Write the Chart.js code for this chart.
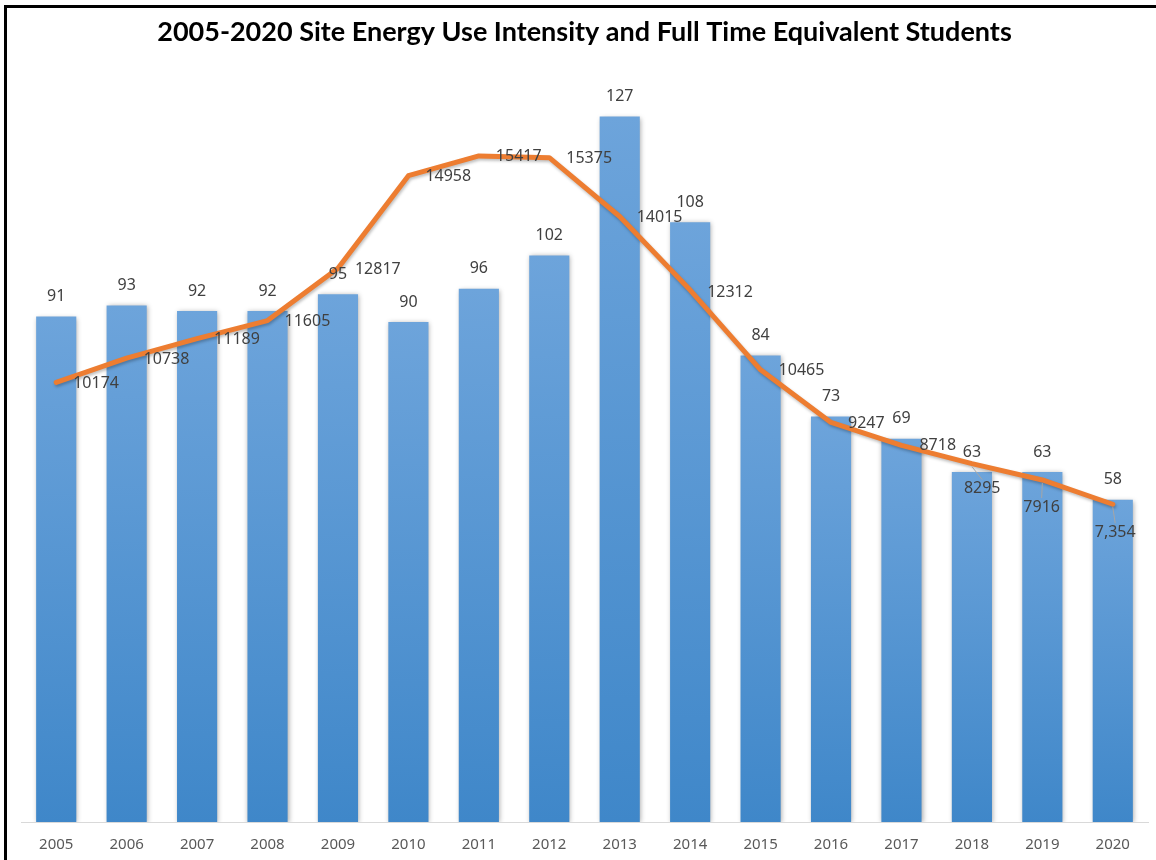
<!DOCTYPE html>
<html>
  <head>
    <title>Site Energy Use Intensity</title>
    <script src="https://cdn.jsdelivr.net/npm/chart.js"></script>
    <style>
      html,
      body {
        margin: 0;
        padding: 0;
        overflow: hidden;
        background: #fff;
      }
      #frame {
        position: absolute;
        left: 4px;
        top: 5px;
        width: 1170px;
        height: 880px;
        border: 3px solid #000;
        box-sizing: border-box;
        pointer-events: none;
      }
      #eui_chart {
        position: absolute;
        left: 0;
        top: 0;
      }
    </style>
  </head>
  <body>
    <canvas id="eui_chart" width="1156" height="860"></canvas>
    <div id="frame"></div>

    <script>
      // data
      var years = [
        "2005", "2006", "2007", "2008", "2009", "2010", "2011", "2012",
        "2013", "2014", "2015", "2016", "2017", "2018", "2019", "2020",
      ];
      var siteEUI = [91, 93, 92, 92, 95, 90, 96, 102, 127, 108, 84, 73, 69, 63, 63, 58];
      var fteStudents = [
        10174, 10738, 11189, 11605, 12817, 14958, 15417, 15375,
        14015, 12312, 10465, 9247, 8718, 8295, 7916, 7354,
      ];

      // where each student label sits relative to its point (last three were dragged down)
      var labelShift = [
        [17, 1], [17, 1], [17, 1], [17, 1], [17, 1], [17, 1], [17, 1], [17, 1],
        [17, 1], [17, 2], [18, 1], [17, 1], [18, 0], [-8, 25], [-19, 27], [-18, 28],
      ];

      function studentLabel(v, i) {
        // the last one was typed with a comma in the original
        return i === fteStudents.length - 1 ? v.toLocaleString("en-US") : String(v);
      }

      var ctx = document.getElementById("eui_chart").getContext("2d");

      var labelsPlugin = {
        id: "valueLabels",
        afterDatasetsDraw: function (chart) {
          var c = chart.ctx;
          c.save();
          c.font = "16px 'Noto Sans'";
          c.fillStyle = "#404040";

          // bar labels
          c.textAlign = "center";
          c.textBaseline = "middle";
          chart.getDatasetMeta(1).data.forEach(function (bar, i) {
            c.fillText(String(siteEUI[i]), bar.x, bar.y - 20);
          });

          // line labels
          c.textAlign = "left";
          chart.getDatasetMeta(0).data.forEach(function (pt, i) {
            var s = labelShift[i];
            var txt = studentLabel(fteStudents[i], i);
            var lx = pt.x + s[0];
            var ly = pt.y + s[1];
            if (s[1] > 10) {
              // leader line
              var w = c.measureText(txt).width;
              c.strokeStyle = "#a6a6a6";
              c.lineWidth = 1;
              c.beginPath();
              c.moveTo(pt.x, pt.y + 3);
              c.lineTo(lx + w / 2, ly - 9);
              c.stroke();
            }
            c.fillText(txt, lx, ly);
          });
          c.restore();
        },
      };

      var shadowPlugin = {
        id: "softShadow",
        beforeDatasetDraw: function (chart, args) {
          var c = chart.ctx;
          c.save();
          if (args.index === 1) {
            c.shadowColor = "rgba(0,0,0,0.35)";
            c.shadowBlur = 5;
            c.shadowOffsetX = 1;
            c.shadowOffsetY = 1;
          } else {
            c.shadowColor = "rgba(0,0,0,0.25)";
            c.shadowBlur = 3;
            c.shadowOffsetX = 1;
            c.shadowOffsetY = 2;
          }
        },
        afterDatasetDraw: function (chart) {
          chart.ctx.restore();
        },
      };

      function barFill(context) {
        var chart = context.chart;
        var area = chart.chartArea;
        if (!area || context.type !== "data") return "#5b9bd5";
        var top = chart.scales.y.getPixelForValue(context.raw);
        var g = chart.ctx.createLinearGradient(0, top, 0, area.bottom);
        g.addColorStop(0, "#6da4db");
        g.addColorStop(1, "#3f87c9");
        return g;
      }

      var myChart = new Chart(ctx, {
        type: "bar",
        data: {
          labels: years,
          datasets: [
            {
              type: "line",
              label: "Full Time Equivalent Students",
              data: fteStudents,
              yAxisID: "y2",
              borderColor: "#ed7d31",
              borderWidth: 5,
              borderJoinStyle: "round",
              borderCapStyle: "round",
              pointRadius: 0,
              tension: 0,
              order: 0,
            },
            {
              label: "Site EUI",
              data: siteEUI,
              yAxisID: "y",
              backgroundColor: barFill,
              barPercentage: 0.57,
              categoryPercentage: 1,
              order: 1,
            },
          ],
        },
        options: {
          responsive: false,
          animation: false,
          events: [],
          layout: {
            padding: { left: 21, right: 8, top: 0, bottom: 8 },
          },
          scales: {
            x: {
              grid: { display: false, drawTicks: false },
              border: { display: true, color: "#d9d9d9", width: 1 },
              ticks: {
                color: "#595959",
                padding: 14,
                maxRotation: 0,
                autoSkip: false,
                font: { family: "'Noto Sans'", size: 15 },
              },
              afterFit: function (scale) {
                scale.height = 30;
              },
            },
            y: {
              display: false,
              min: 0,
              max: 137.3,
            },
            y2: {
              display: false,
              min: 0,
              max: 17650,
            },
          },
          plugins: {
            legend: { display: false },
            tooltip: { enabled: false },
            title: {
              display: true,
              text: "2005-2020 Site Energy Use Intensity and Full Time Equivalent Students",
              color: "#000",
              font: { family: "Lato", size: 27, weight: "bold", lineHeight: 1.2 },
              padding: { top: 16, bottom: 11 },
            },
          },
        },
        plugins: [shadowPlugin, labelsPlugin],
      });
    </script>
  </body>
</html>
